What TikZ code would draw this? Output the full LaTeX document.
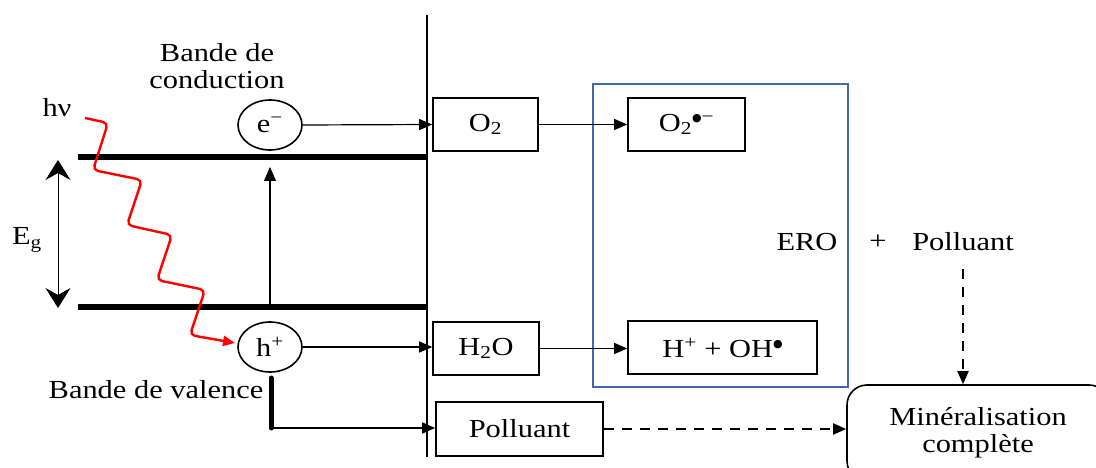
\documentclass[tikz,border=0pt]{standalone}
\usepackage{fontspec}
\setmainfont{Liberation Serif}[FakeStretch=1.17]
\newfontfamily\djv{DejaVu Sans}
\usetikzlibrary{arrows.meta,shapes.geometric,calc}
\definecolor{eroblue}{RGB}{70,102,172}
\definecolor{photon}{RGB}{255,0,0}
\newcommand{\mns}{\char"2212}
\newcommand{\rad}{\raisebox{10pt}{\djv\fontsize{11}{11}\selectfont ●}}
\begin{document}
\begin{tikzpicture}[x=1pt,y=-1pt,
  every node/.style={font=\fontsize{26}{27}\selectfont, inner sep=0pt},
  box/.style={draw, line width=1.6pt, minimum height=53pt},
  conn/.style={line width=1.2pt, -{Triangle[length=13pt,width=11pt]}},
  dconn/.style={line width=1.8pt, dash pattern=on 10pt off 8pt, -{Triangle[length=13pt,width=11pt]}},
  band/.style={line width=6pt},
  carrier/.style={draw, ellipse, line width=1.6pt, minimum width=64pt, minimum height=50pt}]
\clip (0,0) rectangle (1096,468);
\fill[white] (0,0) rectangle (1096,468);

% separator line
\coordinate (vtop) at (427,15);
\coordinate (vbot) at (427,457);
\draw[line width=1.4pt] (vtop) -- (vbot);

% bands
\coordinate (cbl) at (78,157);
\coordinate (cbr) at (427,157);
\coordinate (vbl) at (78,307);
\coordinate (vbr) at (427,307);
\draw[band] (cbl) -- (cbr);
\draw[band] (vbl) -- (vbr);

% gap arrow
\coordinate (egt) at (58,160);
\coordinate (egb) at (58,308);
\draw[line width=1pt, {Stealth[length=20pt,width=25pt,inset=7pt]}-{Stealth[length=20pt,width=25pt,inset=7pt]}] (egt) -- (egb);
\node (eg) at (27,240) {E\textsubscript{g}};

% excitation arrow
\coordinate (exb) at (270,304);
\coordinate (ext) at (270,167);
\draw[line width=1.1pt, -{Triangle[length=14pt,width=12pt]}] (exb) -- (ext);

% labels
\node[align=center] (cb) at (217,66) {Bande de\\conduction};
\node (hv) at (57,108) {hν};
\node (vb) at (156,390) {Bande de valence};

% carriers
\node[carrier] (e) at (270,125) {e\textsuperscript{\mns}};
\node[carrier] (h) at (270,347) {h\textsuperscript{+}};

% photon
\coordinate (p0) at (85,118);
\draw[photon, line width=2.4pt, rounded corners=5pt, -{Triangle[length=12pt,width=10pt]}]
  (p0) -- (108,123) -- (93,170) -- (142,180) -- (127,225) -- (172,235)
  -- (157,280) -- (205,290) -- (190,335) -- (235,343);

% boxes
\node[box, minimum width=105pt] (o2) at (485.5,124.5) {O\textsubscript{2}};
\node[box, minimum width=117pt] (o2r) at (686.5,124.5) {O\textsubscript{2}\rad\textsuperscript{\mns}};
\node[box, minimum width=106pt] (h2o) at (486,348.5) {H\textsubscript{2}O};
\node[box, minimum width=189pt] (hoh) at (722.5,347.5) {H\textsuperscript{+} + OH\rad};
\node[box, minimum width=167pt, minimum height=54pt] (pol) at (519.5,429) {Polluant};

% ERO frame
\node[draw=eroblue, line width=1.8pt, minimum width=255pt, minimum height=303pt] (ero) at (720.5,235.5) {};

\node (erot) at (807,242) {ERO};
\node (plus) at (878,242) {+};
\node (pol2) at (963,242) {Polluant};

% mineralisation
\node[draw, line width=1.6pt, rounded corners=20pt, minimum width=262pt, minimum height=96pt, align=center] (min) at (978,433) {Minéralisation\\complète};

% connectors
\draw[conn] (e.east) -- (o2.west);
\draw[conn] (o2.east) -- (o2r.west);
\draw[conn] (h.east) -- (h.east -| h2o.west);
\draw[conn] (h2o.east) -- (h2o.east -| hoh.west);
\coordinate (hs) at (271,378);
\coordinate (hk) at (271,428);
\draw[line width=5pt, line cap=round] (hs) -- (hk);
\draw[conn] (hk) -- (hk -| pol.west);
\draw[dconn] (pol.east) -- (pol.east -| min.west);
\draw[dconn] ($(pol2.south)+(0,18)$) -- (pol2.south |- min.north);
\end{tikzpicture}
\end{document}
